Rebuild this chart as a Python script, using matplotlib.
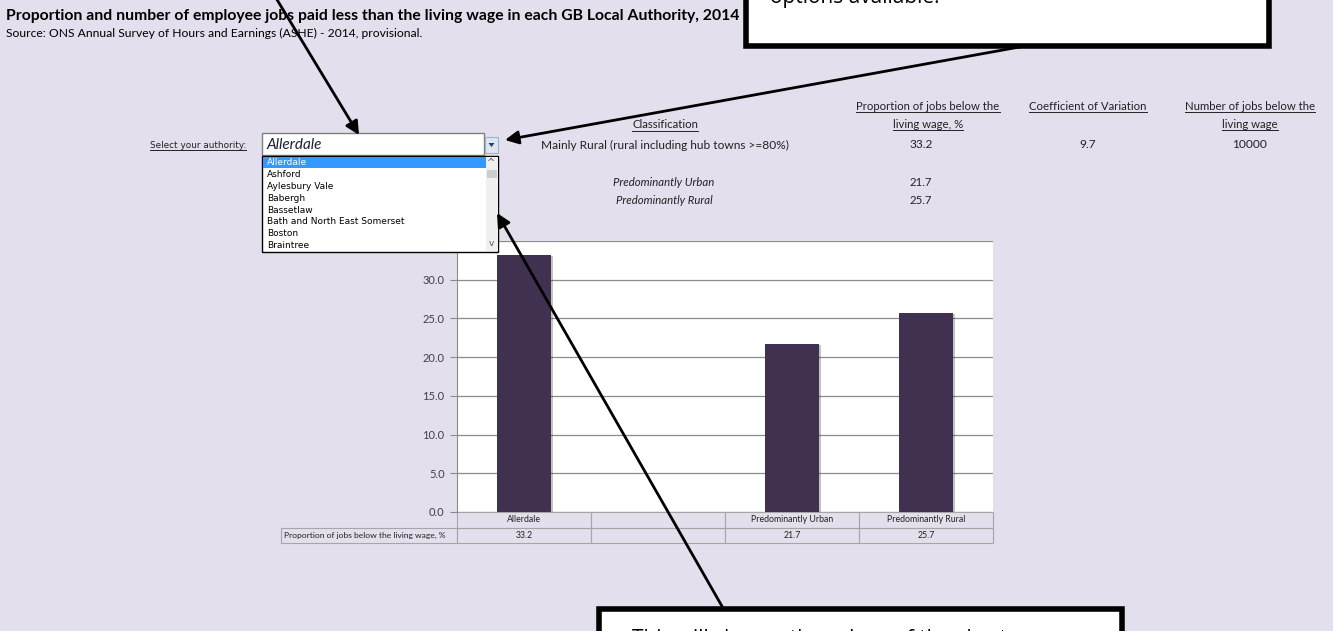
import numpy as np
import matplotlib
matplotlib.use("Agg")
import matplotlib.pyplot as plt
from matplotlib.patches import Rectangle, Polygon
from matplotlib import patheffects as pe

plt.rcParams["font.family"] = ["Lato", "DejaVu Sans"]

# chart data
categories = ["Allerdale", "", "Predominantly Urban", "Predominantly Rural"]
proportions = [33.2, np.nan, 21.7, 25.7]
y_ticks = [0, 5, 10, 15, 20, 25, 30, 35]
table_row_label = "Proportion of jobs below the living wage, %"

# sheet data
authorities = ["Allerdale", "Ashford", "Aylesbury Vale", "Babergh", "Bassetlaw",
               "Bath and North East Somerset", "Boston", "Braintree"]
selected_class = "Mainly Rural (rural including hub towns >=80%)"
coef_variation = 9.7
jobs_below = 10000
group_labels = ["Predominantly Urban", "Predominantly Rural"]
group_values = [21.7, 25.7]

BG = "#E4DFEC"
BAR = "#403151"
GRID = "#8C8C8C"
W, H = 1333, 631

fig = plt.figure(figsize=(W / 100, H / 100), dpi=100)
fig.patch.set_facecolor(BG)


def pixel_axes(z):
    a = fig.add_axes([0, 0, 1, 1], zorder=z)
    a.set_xlim(0, W)
    a.set_ylim(H, 0)
    a.axis("off")
    a.patch.set_alpha(0)
    return a


bg = pixel_axes(0)
fg = pixel_axes(2)

# ---- sheet texts
bg.text(6, 16, "Proportion and number of employee jobs paid less than the living wage in each GB Local Authority, 2014",
        fontsize=11.3, fontweight="bold", va="center", ha="left")
bg.text(6, 33, "Source: ONS Annual Survey of Hours and Earnings (ASHE) - 2014, provisional.",
        fontsize=8.7, va="center", ha="left")

underlined = []
underlined.append(bg.text(150, 145, "Select your authority:", fontsize=6.4, va="center",
                          family=["DejaVu Sans"], color="#222222"))
for x, y, s in [(665, 125, "Classification"),
                (928, 106, "Proportion of jobs below the"), (928, 124, "living wage, %"),
                (1088, 106, "Coefficient of Variation"),
                (1250, 106, "Number of jobs below the"), (1250, 124, "living wage")]:
    underlined.append(bg.text(x, y, s, fontsize=8.2, ha="center", va="center", color="#222222"))

bg.text(665, 145, selected_class, fontsize=8.6, ha="center", va="center", color="#222222")
bg.text(921, 145, f"{proportions[0]:.1f}", fontsize=8.6, ha="center", va="center", color="#222222")
bg.text(1088, 145, f"{coef_variation:.1f}", fontsize=8.6, ha="center", va="center", color="#222222")
bg.text(1250, 145, f"{jobs_below}", fontsize=8.6, ha="center", va="center", color="#222222")
for y, lab, val in zip([183, 201], group_labels, group_values):
    bg.text(664, y, lab, fontsize=8.2, ha="center", va="center", style="italic", color="#222222")
    bg.text(921, y, f"{val:.1f}", fontsize=8.2, ha="center", va="center", color="#222222")

# ---- chart
ax = fig.add_axes([457 / W, 1 - 512 / H, 536 / W, 271 / H], zorder=1)
ax.set_facecolor("white")
x = np.arange(len(categories))
bars = ax.bar(x, proportions, width=0.4, color=BAR, zorder=3)
for b in bars:
    b.set_path_effects([pe.SimplePatchShadow(offset=(1.5, -1), alpha=0.25), pe.Normal()])
ax.set_xlim(-0.5, len(categories) - 0.5)
ax.set_ylim(0, 35)
ax.set_yticks(y_ticks)
ax.set_yticklabels([f"{v:.1f}" for v in y_ticks], fontsize=8, color="#404040")
ax.yaxis.grid(True, color=GRID, lw=0.9)
ax.set_axisbelow(True)
ax.tick_params(axis="y", length=5, color=GRID, pad=4)
ax.set_xticks([])
for side in ["top", "right", "bottom"]:
    ax.spines[side].set_visible(False)
ax.spines["left"].set_color(GRID)

# data table under the chart
tr = ax.get_xaxis_transform()
rh = 15.5 / 271
edge = "#A6A6A6"
for i, (cat, val) in enumerate(zip(categories, proportions)):
    ax.add_patch(Rectangle((i - 0.5, -rh), 1, rh, transform=tr, clip_on=False,
                           fc="none", ec=edge, lw=0.8))
    ax.add_patch(Rectangle((i - 0.5, -2 * rh), 1, rh, transform=tr, clip_on=False,
                           fc="none", ec=edge, lw=0.8))
    ax.text(i, -rh / 2, cat, transform=tr, ha="center", va="center", fontsize=6.3, color="#222222")
    if not np.isnan(val):
        ax.text(i, -1.5 * rh, f"{val:.1f}", transform=tr, ha="center", va="center",
                fontsize=6.3, color="#222222")
lab_w = 176 / 134
ax.add_patch(Rectangle((-0.5 - lab_w, -2 * rh), lab_w, rh, transform=tr, clip_on=False,
                       fc="none", ec=edge, lw=0.8))
ax.text(-0.5 - lab_w + 0.02, -1.5 * rh, table_row_label, transform=tr, ha="left", va="center",
        fontsize=6.1, color="#222222")

# ---- combo box and drop-down list
fg.add_patch(Rectangle((262, 133), 222, 22, fc="white", ec="#7F7F7F", lw=1))
fg.text(266, 145, authorities[0], fontsize=11, style="italic", va="center", color="#1F1F3A")
fg.add_patch(Rectangle((485, 137), 13, 16, fc="#DCE6F2", ec="#9DB0CC", lw=0.8))
fg.add_patch(Polygon([(488.5, 143), (494.5, 143), (491.5, 147)], closed=True, fc="#2A3A60", ec="none"))

fg.add_patch(Rectangle((262, 156), 236, 96, fc="white", ec="black", lw=1))
fg.add_patch(Rectangle((263, 157), 223, 11, fc="#3399FF", ec="none"))
fg.add_patch(Rectangle((486, 157), 11.5, 94, fc="#F0F0F0", ec="none"))
fg.add_patch(Rectangle((487, 170), 10, 8, fc="#CDCDCD", ec="none"))
fg.text(491.5, 163, "^", fontsize=7, ha="center", va="center", color="#555555", family=["DejaVu Sans"])
fg.text(491.5, 244, "v", fontsize=6.5, ha="center", va="center", color="#555555", family=["DejaVu Sans"])
for i, name in enumerate(authorities):
    fg.text(267, 162.5 + i * 11.9, name, fontsize=6.5, va="center", family=["DejaVu Sans"],
            color="white" if i == 0 else "black")

# ---- callout boxes (their text runs off the sheet, as in the screenshot)
fg.add_patch(Rectangle((746, -20), 523, 66, fc="white", ec="black", lw=4, clip_on=False))
fg.text(770, 3, "options available.", fontsize=15, va="baseline", ha="left", family=["Open Sans", "DejaVu Sans"])
fg.add_patch(Rectangle((599, 609), 523, 60, fc="white", ec="black", lw=4, clip_on=False))
fg.text(632, 628.5, "This will change the values of the chart", fontsize=15, va="top", ha="left",
        family=["Open Sans", "DejaVu Sans"])

arrow = dict(arrowstyle="-|>", mutation_scale=20, lw=2, color="black", shrinkA=0, shrinkB=0)
fg.annotate("", xy=(359, 135), xytext=(276, -2), arrowprops=arrow)
fg.annotate("", xy=(505, 140), xytext=(1025, 46), arrowprops=arrow)
fg.annotate("", xy=(497, 213), xytext=(723, 608), arrowprops=arrow)

# underlines under header texts
fig.canvas.draw()
inv = bg.transData.inverted()
for t in underlined:
    bb = t.get_window_extent()
    (x0, y0), (x1, y1) = inv.transform([(bb.x0, bb.y0), (bb.x1, bb.y1)])
    bg.plot([x0, x1], [y0 + 0.3, y0 + 0.3], color="#222222", lw=0.7)

fig.savefig("out.png", dpi=100, facecolor=BG)
